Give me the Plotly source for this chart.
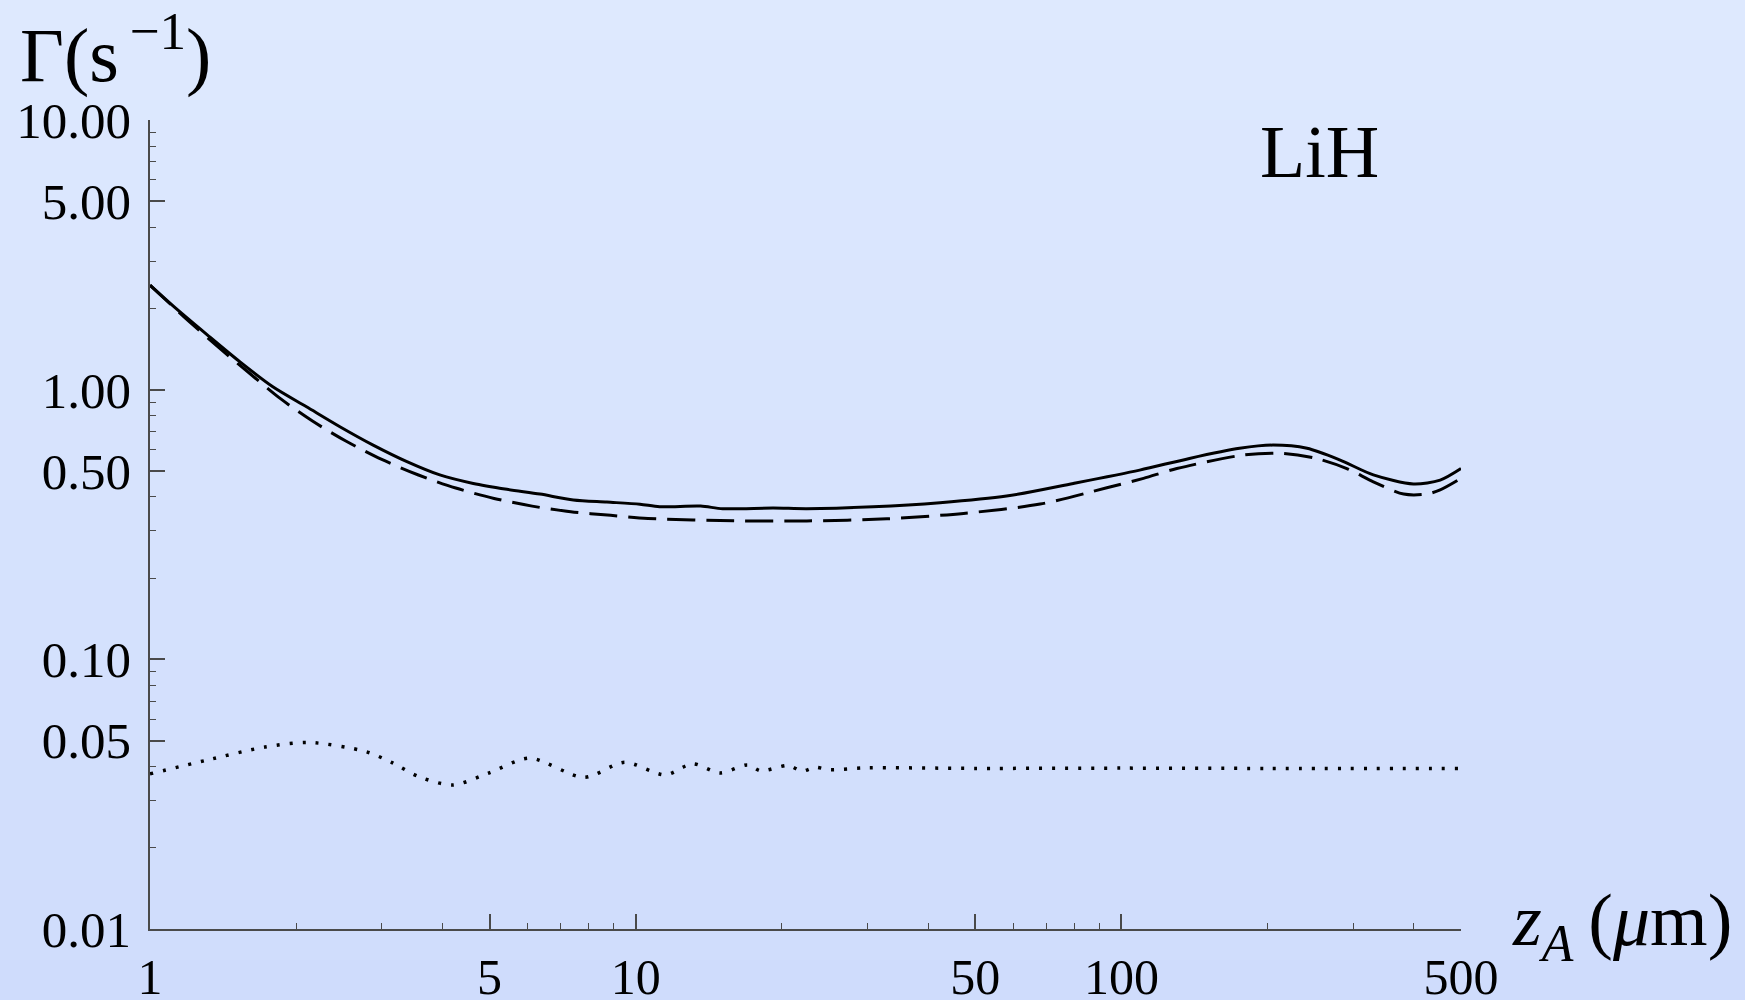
import plotly.graph_objects as go

# ---------------- data ----------------
x_solid = [1, 1.117, 1.31, 1.53, 1.79, 2.10, 2.46, 2.88, 3.38, 3.95, 4.63, 5.43, 6.35, 7.44,
           8.72, 10.2, 11.2, 13.6, 15.1, 19.2, 22.5, 30.8, 42.3, 58, 79.6, 109, 138, 175,
           205, 241, 282, 330, 399, 453, 500]
y_solid = [2.44, 2.04, 1.60, 1.27, 1.025, 0.864, 0.729, 0.623, 0.541, 0.483, 0.449, 0.427,
           0.410, 0.390, 0.383, 0.376, 0.368, 0.370, 0.362, 0.364, 0.362, 0.368, 0.381, 0.403,
           0.449, 0.503, 0.556, 0.606, 0.623, 0.606, 0.548, 0.483, 0.447, 0.462, 0.510]

x_dashed = [1, 1.2, 1.4, 1.594, 1.853, 2.16, 2.53, 3.0, 3.57, 4.26, 5.11, 6.12, 7.35, 8.88,
            10.6, 15.9, 22.5, 32.9, 47.3, 68, 93.3, 111, 130, 178, 214, 252, 291, 330, 381,
            425, 453, 500]
y_dashed = [2.44, 1.80, 1.41, 1.16, 0.928, 0.765, 0.645, 0.551, 0.4826, 0.4317, 0.395, 0.370,
            0.3526, 0.342, 0.333, 0.3265, 0.326, 0.332, 0.3477, 0.3764, 0.4328, 0.469, 0.51,
            0.572, 0.581, 0.556, 0.51, 0.4555, 0.41, 0.41, 0.425, 0.469]

x_dotted = [1, 1.31, 1.725, 2.12, 2.78, 3.15, 3.58, 4.2, 4.97, 6.04, 7.83, 9.48, 11.5, 13.1,
            14.9, 17, 18.1, 20.6, 22, 23.4, 25, 30, 50, 100, 200, 500]
y_dotted = [0.0376, 0.0423, 0.0473, 0.0492, 0.0455, 0.0414, 0.0367, 0.0342, 0.0378, 0.043,
            0.0365, 0.0415, 0.0373, 0.041, 0.0379, 0.0406, 0.0386, 0.0404, 0.0385, 0.0398,
            0.039, 0.0396, 0.0394, 0.0395, 0.0394, 0.0394]

x_tickvals = [1, 5, 10, 50, 100, 500]
x_ticktext = ["1", "5", "10", "50", "100", "500"]
x_minor = [2, 3, 4, 6, 7, 8, 9, 20, 30, 40, 60, 70, 80, 90, 200, 300, 400]

y_tickvals = [0.01, 0.05, 0.1, 0.5, 1, 5, 10]
y_ticktext = ["0.01", "0.05", "0.10", "0.50", "1.00", "5.00", "10.00"]
y_minor = [0.02, 0.03, 0.04, 0.06, 0.07, 0.08, 0.09, 0.2, 0.3, 0.4, 0.6, 0.7, 0.8, 0.9,
           2, 3, 4, 6, 7, 8, 9]

# ---------------- figure ----------------
W, H = 1745, 1000
L, R, T, B = 150, 284, 120, 71
FONT = "Liberation Serif"
AX = "#4a4a4a"

fig = go.Figure()
fig.add_trace(go.Scatter(x=x_solid, y=y_solid, mode="lines",
                         line=dict(color="black", width=3, shape="spline", smoothing=0.8),
                         showlegend=False, hoverinfo="skip"))
fig.add_trace(go.Scatter(x=x_dashed, y=y_dashed, mode="lines",
                         line=dict(color="black", width=3, dash="28px,11px",
                                   shape="spline", smoothing=0.8),
                         showlegend=False, hoverinfo="skip"))
fig.add_trace(go.Scatter(x=x_dotted, y=y_dotted, mode="lines",
                         line=dict(color="black", width=3.5, dash="3px,10px",
                                   shape="spline", smoothing=0.8),
                         showlegend=False, hoverinfo="skip"))

# background vertical gradient (paper coords spanning whole figure)
pw, ph = W - L - R, H - T - B
top_c = (222, 233, 254)
bot_c = (207, 220, 252)
n = 50
shapes = []
for i in range(n):
    p0 = i * H / n
    p1 = (i + 1) * H / n + 1
    f = (i + 0.5) / n
    c = tuple(round(top_c[k] + (bot_c[k] - top_c[k]) * f) for k in range(3))
    shapes.append(dict(type="rect", xref="paper", yref="paper", layer="below",
                       x0=-L / pw - 0.01, x1=(W - L) / pw + 0.01,
                       y0=(H - B - p1) / ph, y1=(H - B - p0) / ph,
                       fillcolor="rgb(%d,%d,%d)" % c, line=dict(width=0)))

fig.update_layout(
    width=W, height=H, autosize=False,
    margin=dict(l=L, r=R, t=T, b=B, pad=0),
    paper_bgcolor="rgb(214,226,253)",
    plot_bgcolor="rgba(0,0,0,0)",
    font=dict(family=FONT, color="black", size=51),
    shapes=shapes,
    xaxis=dict(type="log", range=[0, 2.69897], showline=True, linecolor=AX, linewidth=1.6,
               ticks="inside", ticklen=15, tickwidth=1.5, tickcolor=AX, automargin=False,
               tickvals=x_tickvals, ticktext=x_ticktext, showgrid=False, zeroline=False,
               tickfont=dict(family=FONT, size=50), ticklabelstandoff=3,
               minor=dict(tickvals=x_minor, ticks="inside", ticklen=6, tickwidth=1.3,
                          tickcolor=AX, showgrid=False)),
    yaxis=dict(type="log", range=[-2, 1], showline=True, linecolor=AX, linewidth=1.6,
               ticks="inside", ticklen=15, tickwidth=1.5, tickcolor=AX, automargin=False,
               tickvals=y_tickvals, ticktext=y_ticktext, showgrid=False, zeroline=False,
               tickfont=dict(family=FONT, size=51), ticklabelstandoff=7,
               minor=dict(tickvals=y_minor, ticks="inside", ticklen=6, tickwidth=1.3,
                          tickcolor=AX, showgrid=False)),
    annotations=[
        dict(text="LiH", xref="paper", yref="paper", x=(1319 - L) / pw, y=(H - B - 152) / ph,
             xanchor="center", yanchor="middle", showarrow=False,
             font=dict(family=FONT, size=74, color="black")),
        dict(text="Γ(s<sup>\u2009−1</sup>)", xref="paper", yref="paper",
             x=(18 - L) / pw, y=(H - B - 50) / ph, xanchor="left", yanchor="middle",
             showarrow=False, font=dict(family=FONT, size=76, color="black")),
        dict(text="<i>z</i><sub><i>A</i></sub>\u2009(<i>μ</i>m)", xref="paper", yref="paper",
             x=(1510 - L) / pw, y=(H - B - 925) / ph, xanchor="left", yanchor="middle",
             showarrow=False, font=dict(family=FONT, size=74, color="black")),
    ],
)

fig.write_html("out.html", config={"displayModeBar": False},
               post_script="document.body.style.margin='0';document.body.style.overflow='hidden';")
